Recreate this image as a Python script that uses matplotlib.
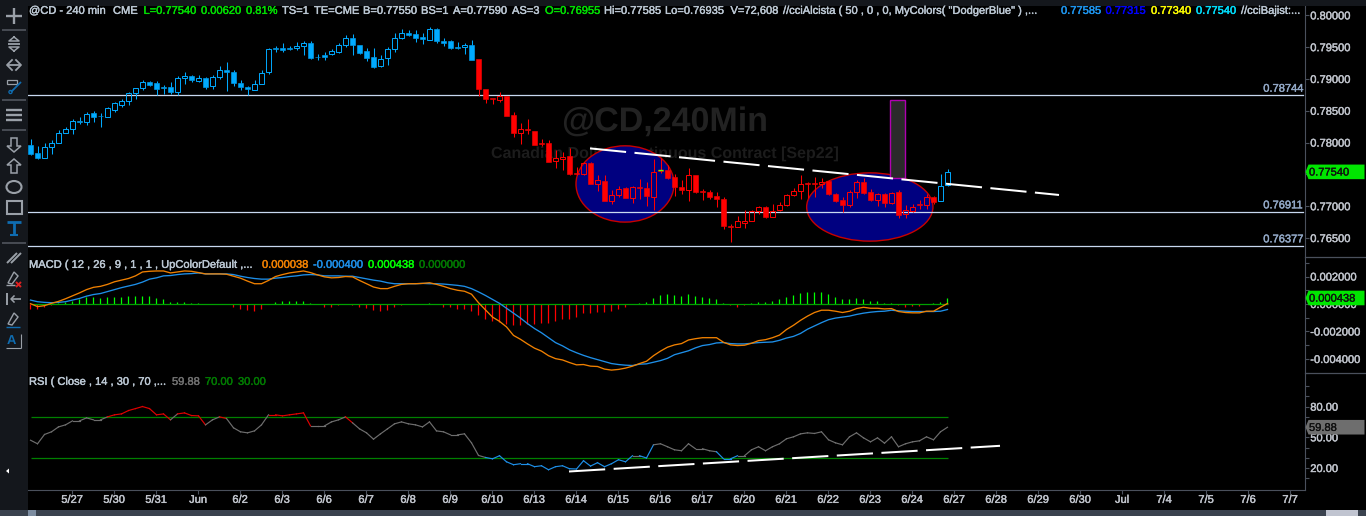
import numpy as np
import matplotlib
matplotlib.use('Agg')
import matplotlib.pyplot as plt
import matplotlib.patheffects as pe
from matplotlib.patches import Ellipse, Rectangle, Polygon, Circle
from matplotlib.ticker import MultipleLocator, FixedLocator, FormatStrFormatter

plt.rcParams['font.family'] = ['Liberation Sans', 'DejaVu Sans']
plt.rcParams['text.hinting'] = 'no_hinting'
plt.rcParams['text.hinting_factor'] = 1

# prices in 1e-5, one entry per 240 min bar
highs = [78051,77946,77988,78041,78199,78241,78367,78398,78483,78493,
78462,78556,78640,78693,78798,78861,78988,78972,78967,78909,
78956,79051,79109,79067,79056,79030,79061,79209,79272,79135,
78988,78893,78988,79135,79487,79514,79566,79514,79577,79592,
79598,79398,79424,79477,79566,79698,79713,79540,79487,79487,
79382,79498,79724,79792,79766,79766,79724,79819,79803,79645,
79619,79582,79566,79619,79319,78846,78698,78798,78735,78488,
78304,78367,78183,78051,78041,77883,77857,77909,77620,77688,
77699,77489,77489,77262,77315,77304,77320,77425,77383,77741,
77751,77646,77504,77410,77594,77489,77278,77262,77226,77147,
76715,76842,76936,76947,77005,77005,77041,77062,77189,77289,
77489,77383,77462,77436,77420,77215,77147,77262,77410,77436,
77278,77215,77210,77231,77262,77015,77031,77094,77199,77162,
77504,77585]
body_top = [77962,77830,77936,77999,78157,78220,78335,78335,78456,78462,
78425,78541,78619,78661,78772,78851,78951,78951,78935,78867,
78872,79019,79046,79051,79014,79019,79030,79140,79140,79109,
78935,78872,78919,79093,79471,79487,79487,79487,79514,79566,
79566,79351,79372,79445,79535,79645,79645,79535,79440,79345,
79314,79471,79640,79724,79724,79708,79661,79787,79792,79603,
79603,79503,79535,79535,79319,78846,78698,78735,78735,78430,
78209,78209,78183,77988,77988,77751,77778,77788,77520,77673,
77673,77420,77404,77178,77273,77283,77304,77310,77294,77541,
77567,77567,77457,77310,77483,77483,77236,77231,77157,77110,
76689,76773,76773,76926,76989,76989,76926,77026,77178,77247,
77357,77367,77362,77388,77399,77199,77094,77231,77373,77388,
77220,77199,77199,77215,77220,76942,76989,77031,77147,77147,
77325,77540]
body_bot = [77820,77762,77762,77936,77999,78157,78220,78325,78330,78404,
78414,78409,78514,78593,78661,78772,78851,78909,78846,78856,
78788,78788,79014,78988,78972,78867,78882,79024,79104,78930,
78867,78835,78819,78914,79104,79477,79461,79477,79487,79519,
79335,79340,79340,79393,79419,79530,79530,79403,79335,79182,
79198,79324,79466,79640,79692,79645,79624,79619,79593,79561,
79493,79493,79498,79303,78835,78693,78683,78672,78425,78151,
78151,78193,77962,77978,77699,77704,77746,77510,77510,77510,
77357,77357,77078,77083,77178,77136,77131,77294,77162,77147,
77557,77446,77304,77257,77262,77226,77226,77147,77115,76689,
76679,76673,76742,76773,76926,76831,76836,76942,77026,77178,
77241,77357,77352,77352,77189,77078,77015,77026,77226,77210,
77105,77105,77047,77052,76857,76873,76926,77020,77026,77068,
77083,77340]
lows = [77799,77741,77762,77820,77988,78157,78135,78293,78278,78330,
78251,78409,78488,78556,78588,78693,78819,78893,78746,78767,
78767,78751,78914,78946,78946,78840,78840,78998,78804,78882,
78819,78746,78819,78914,79072,79419,79419,79451,79461,79382,
79319,79303,79303,79382,79408,79503,79382,79387,79277,79177,
79187,79224,79419,79635,79671,79582,79556,79608,79571,79514,
79477,79472,79398,79303,78740,78619,78609,78646,78425,78083,
77978,78135,77962,77951,77694,77604,77567,77489,77489,77489,
77346,77241,77078,77041,77147,77125,77052,77120,77000,76936,
77515,77425,77157,77189,77083,77210,77105,77120,76989,76636,
76436,76673,76663,76768,76873,76821,76826,76926,77010,77168,
77120,77125,77147,77294,77178,77062,76915,76989,77125,77199,
77083,77000,76989,77041,76821,76821,76915,76963,76963,77041,
77083,77315]
hollow_bars = [2,3,4,5,6,8,11,12,13,14,15,16,21,22,24,26,27,32,33,34,38,39,43,44,45,50,51,52,53,57,62,
67,70,75,76,79,81,83,84,86,89,94,101,102,103,104,106,107,108,109,110,113,117,118,121,123,125,126,128,130,131]
red_bars = (64, 129)

# macd in millionths
macd_signal = [286,167,119,95,119,167,286,405,571,690,762,904,1047,1190,1309,1428,1595,1809,1904,2047,
2071,2142,2190,2213,2261,2190,2190,2190,2190,2142,2023,1928,1856,1809,1809,1880,1928,1999,2047,2118,
2142,2118,2047,2047,2047,2023,2023,1928,1833,1737,1666,1547,1476,1476,1476,1476,1499,1476,1476,1452,
1404,1357,1285,1119,881,619,333,48,-309,-666,-1023,-1428,-1785,-2094,-2451,-2808,-3046,-3332,-3546,-3737,
-3903,-4046,-4189,-4332,-4403,-4451,-4474,-4379,-4355,-4236,-4117,-3951,-3689,-3546,-3403,-3189,-3023,-2951,-2832,-2808,
-2880,-2904,-2904,-2856,-2808,-2785,-2761,-2642,-2475,-2356,-2142,-1833,-1595,-1357,-1142,-1023,-952,-881,-762,-666,
-595,-547,-524,-452,-500,-524,-547,-547,-547,-547,-524,-400]
macd_fast = [24,-190,-119,48,190,381,595,809,1047,1214,1285,1428,1618,1737,1856,2047,2332,2380,2404,2404,
2261,2332,2404,2380,2285,2190,2190,2190,2166,2023,1880,1666,1476,1476,1714,1999,2142,2261,2332,2404,
2285,2118,1975,1904,1928,1999,1975,1714,1476,1238,1119,1119,1285,1428,1476,1476,1499,1547,1428,1285,
1119,1000,928,714,95,-428,-952,-1261,-1666,-2285,-2570,-2904,-3213,-3427,-3760,-3975,-4070,-4260,-4427,-4403,
-4522,-4546,-4736,-4808,-4760,-4665,-4522,-4332,-4165,-3760,-3427,-3142,-2975,-2880,-2618,-2523,-2451,-2451,-2451,-2785,
-2975,-3023,-2999,-2856,-2666,-2594,-2451,-2261,-1856,-1547,-1190,-881,-619,-452,-452,-524,-619,-524,-333,-238,
-309,-309,-357,-333,-547,-619,-643,-643,-524,-524,-238,38]
macd_hist = [-357,-357,-238,-95,48,143,214,357,476,524,452,500,500,500,548,571,571,571,428,357,
143,143,143,71,48,0,0,-24,-24,-190,-357,-405,-476,-333,0,167,214,214,214,214,
71,0,-190,-190,-71,0,-71,-190,-310,-452,-524,-405,-238,-71,0,24,0,48,0,-190,
-238,-357,-357,-500,-833,-1119,-1238,-1310,-1429,-1548,-1548,-1429,-1476,-1381,-1381,-1262,-1119,-1071,-976,-667,
-667,-571,-595,-524,-333,-238,0,71,143,428,643,714,667,571,714,571,524,452,357,71,
-71,-190,-71,71,143,143,214,357,500,643,786,857,857,857,714,500,357,357,428,357,
214,214,71,71,-71,-190,-143,-119,24,71,143,438]
rsi = [47.2,43.7,52.8,55.4,60.2,62.2,66.1,66.1,69.0,67.1,67.1,70.0,72.0,72.9,76.2,78.1,80.1,78.1,72.0,72.9,
67.1,72.9,73.9,71.3,71.0,62.2,67.1,70.0,68.4,59.3,55.4,54.4,56.3,62.2,72.0,72.0,71.0,72.0,72.9,73.9,
61.2,61.2,61.2,65.1,67.1,70.0,64.2,58.3,54.4,48.2,53.4,58.3,63.2,65.1,63.2,62.2,60.2,65.1,56.3,55.4,
52.4,52.4,53.4,44.6,32.3,30.3,29.0,32.0,26.1,23.2,24.2,24.2,21.3,22.2,18.3,21.3,22.2,19.3,19.0,27.1,
21.9,25.2,21.3,24.2,28.1,26.1,32.0,32.0,29.8,42.7,43.7,40.8,37.8,36.9,43.7,38.8,38.8,36.9,35.9,29.0,
29.0,32.0,32.0,37.8,40.8,36.9,40.8,43.7,48.6,50.5,53.4,54.4,53.8,55.4,47.6,44.6,42.7,50.5,54.4,49.5,
45.6,49.5,44.3,50.5,40.8,43.7,45.6,46.6,50.5,47.6,55.4,59.88]

levels = [0.78744, 0.76911, 0.76377]
date_labels = ['5/27','5/30','5/31','Jun','6/2','6/3','6/6','6/7','6/8','6/9','6/10','6/13','6/14','6/15','6/16',
'6/17','6/20','6/21','6/22','6/23','6/24','6/27','6/28','6/29','6/30','Jul','7/4','7/5','7/6','7/7']

BLUE = '#00aaff'
RED = '#ff0000'
GRID = '#4a505c'
TXT = '#c0c4cc'
FS = 8.0
W, H = 1366, 516

fig = plt.figure(figsize=(W/100, H/100), dpi=100, facecolor='black')

def heavy(t, lw=0.3):
    # reference text is a bit fatter than plain Liberation
    t.set_path_effects([pe.withStroke(linewidth=lw, foreground=t.get_color())])

def panel(top, bottom):
    a = fig.add_axes([28/W, 1-bottom/H, (1305-28)/W, (bottom-top)/H], facecolor='black')
    a.set_xlim((28-30.5)/7, (1305-30.5)/7)
    for s in a.spines.values():
        s.set_visible(False)
    a.spines['right'].set_visible(True)
    a.spines['right'].set_color(GRID)
    a.yaxis.tick_right()
    a.tick_params(axis='y', which='both', colors=GRID, length=3, width=0.8, labelcolor=TXT, labelsize=FS, pad=0.8)
    a.tick_params(axis='x', bottom=False, labelbottom=False)
    return a

ax = panel(6, 257)
ax2 = panel(257, 373)
ax3 = panel(373, 490)

# price panel
ax.set_ylim(0.76202, 0.80147)
ax.yaxis.set_major_locator(MultipleLocator(0.005))
ax.yaxis.set_major_formatter(FormatStrFormatter('%.5f'))

ax.text(90.6, 0.78310, '@CD,240Min', color='#222222', fontsize=24.7, fontweight='bold', ha='center', va='center', zorder=1)
ax.text(90.6, 0.77822, 'Canadian Dollar Continuous Contract [Sep22]', color='#1c1c1c', fontsize=11.7, fontweight='bold', ha='center', va='center', zorder=1)

ax.add_patch(Ellipse((84.93, 0.77350), 14, 0.01199, fc='#000080', ec='#c80000', lw=1, zorder=2))
ax.add_patch(Ellipse((119.9, 0.76988), 18.04, 0.01073, fc='#000080', ec='#c80000', lw=1, zorder=2))
for v in levels:
    ax.axhline(v, xmax=0.9985, color='#c8d8f0', lw=0.9, zorder=3)
    heavy(ax.text(0.9985, v+0.0002, '%.5f' % v, color='#92a8c6', fontsize=FS, ha='right', va='bottom', transform=ax.get_yaxis_transform(), zorder=3))

xs = np.arange(len(highs))
hi = np.array(highs)/1e5
lo = np.array(lows)/1e5
top = np.array(body_top)/1e5
bot = np.array(body_bot)/1e5
for i in xs:
    col = RED if red_bars[0] <= i <= red_bars[1] else BLUE
    ax.vlines(i, top[i], hi[i], color=col, lw=0.75, zorder=4)
    ax.vlines(i, lo[i], bot[i], color=col, lw=0.75, zorder=4)
    if i in hollow_bars:
        ax.bar(i, top[i]-bot[i], bottom=bot[i], width=0.62, fill=False, edgecolor=col, lw=0.7, zorder=4)
    else:
        ax.bar(i, top[i]-bot[i], bottom=bot[i], width=0.66, color=col, edgecolor=col, lw=0.4, zorder=4)
ax.hlines(0.77562, 89.7, 90.3, color='#60ff00', lw=1, zorder=5)

ax.add_patch(Rectangle((122.8, 0.77436), 2.1, 0.01235, fc='#2a2a2a', ec='#b000b0', lw=1, zorder=5))
ax.plot([79.93, 146.93], [0.77909, 0.77177], color='white', lw=1.45, ls=(0, (18, 4.2)), zorder=6)

# macd panel
ax2.set_ylim(-0.00502, 0.00342)
ax2.yaxis.set_major_locator(MultipleLocator(0.002))
ax2.yaxis.set_minor_locator(MultipleLocator(0.001))
ax2.yaxis.set_major_formatter(FormatStrFormatter('%.6f'))
h = np.array(macd_hist)/1e6
ax2.vlines(xs-0.12, 0, h, colors=np.where(h >= 0, '#00ff00', RED), lw=0.9, zorder=2)
ax2.hlines(0, 0, xs[-1], color='#00a000', lw=0.9, zorder=2)
ax2.plot(xs, np.array(macd_signal)/1e6, color='#1e8fe8', lw=0.95, zorder=3)
ax2.plot(xs, np.array(macd_fast)/1e6, color='#f08000', lw=0.95, zorder=4)

# rsi panel
ax3.set_ylim(-1.5, 112.9)
ax3.yaxis.set_major_locator(FixedLocator([20, 50, 80]))
ax3.yaxis.set_minor_locator(FixedLocator([10, 30, 40, 60, 70, 90, 100]))
ax3.yaxis.set_major_formatter(FormatStrFormatter('%.2f'))
ax3.hlines([70, 30], 0, xs[-1], color='#008000', lw=0.9, zorder=2)
for i in xs[:-1]:
    a, b = rsi[i], rsi[i+1]
    col = '#6e6e6e'
    if a >= 70:
        col = '#e00000'
    elif a < 30 or b < 30:
        col = '#1e8fe8'
    ax3.plot([i, i+1], [a, b], color=col, lw=0.85, zorder=3)
ax3.plot([76.93, 138.5], [16.6, 41.7], color='white', lw=1.45, ls=(0, (18, 4.2)), zorder=6)

ax3.spines['bottom'].set_visible(True)
ax3.spines['bottom'].set_color(GRID)
ax3.set_xticks(5.93 + 6*np.arange(len(date_labels)))
ax3.set_xticklabels(date_labels)
ax3.tick_params(axis='x', bottom=True, labelbottom=True, colors=GRID, labelcolor=TXT, length=3, width=0.8, labelsize=FS, pad=0.5)
for a in (ax, ax2, ax3):
    for t in a.get_yticklabels() + a.get_xticklabels():
        heavy(t)

# overlay in pixels: toolbar, legends, price tags, scroll bar
ov = fig.add_axes([0, 0, 1, 1], zorder=10)
ov.set_xlim(0, W)
ov.set_ylim(H, 0)
ov.axis('off')
ov.patch.set_visible(False)
DARK = '#14171c'
ICON = '#9aa0a8'
ICONB = '#0f6cb0'
ov.add_patch(Rectangle((0, 0), W, 6, fc=DARK, ec='none'))
ov.add_patch(Rectangle((0, 0), 28, H, fc=DARK, ec='none'))
ov.add_patch(Rectangle((0, 510), W, 6, fc='#3a424e', ec='none'))
ov.add_patch(Rectangle((28, 510), 8, 6, fc='#7c8ca0', ec='none'))
ov.add_patch(Rectangle((1326, 510), 32, 6, fc='#c0c4d0', ec='none'))
ov.plot([1305, W], [257, 257], color=GRID, lw=0.9)
ov.plot([1305, W], [373, 373], color=GRID, lw=0.9)

def seg(xx, yy, c=ICON, lw=1.5):
    ov.plot(xx, yy, color=c, lw=lw, solid_capstyle='butt')

seg([6, 22], [15.5, 15.5], lw=1.7)
seg([14, 14], [7.5, 23.5], lw=1.7)
for y in (30, 100, 130, 243):
    seg([2, 26], [y, y], c='#4c5058', lw=1.3)
seg([8, 20], [44, 44], lw=1.3)
ov.plot([14, 9, 19, 14], [37, 41, 41, 37], color=ICON, lw=1.1)
ov.plot([14, 9, 19, 14], [51, 47, 47, 51], color=ICON, lw=1.1)
seg([8, 20], [65, 65], lw=1.3)
ov.plot([12, 7, 12], [60, 65, 70], color=ICON, lw=1.3)
ov.plot([16, 21, 16], [60, 65, 70], color=ICON, lw=1.3)
ov.add_patch(Rectangle((7, 80), 10, 3.5, fc='none', ec=ICON, lw=0.9))
seg([11, 21], [92, 82], c=ICONB, lw=1.3)
ov.add_patch(Circle((10.5, 92), 1.6, fc='none', ec=ICONB, lw=0.9))
for y in (110, 115, 120):
    seg([6, 22], [y, y], lw=1.7)
ov.add_patch(Polygon([(11, 138), (17, 138), (17, 146), (21, 146), (14, 152), (7, 146), (11, 146)], fc='none', ec=ICON, lw=1.1))
ov.add_patch(Polygon([(11, 173), (17, 173), (17, 165), (21, 165), (14, 159), (7, 165), (11, 165)], fc='none', ec=ICON, lw=1.1))
ov.add_patch(Ellipse((14, 187), 15, 12, fc='none', ec=ICON, lw=1.5))
ov.add_patch(Rectangle((6.5, 201), 15, 13, fc='none', ec=ICON, lw=1.5))
seg([7, 21], [222, 222], c=ICONB, lw=2)
seg([14, 14], [222, 235], c=ICONB, lw=2)
seg([10, 18], [235, 235], c=ICONB, lw=1.5)
seg([7, 17], [263, 253], lw=1.4)
seg([11, 21], [263, 253], lw=1.4)
ov.add_patch(Polygon([(8, 283), (14, 272), (18, 276), (12, 284)], fc='none', ec=ICON, lw=1))
seg([6, 15], [285, 285], lw=1)
seg([16, 21], [282, 287], c='#e02020', lw=1.4)
seg([16, 21], [287, 282], c='#e02020', lw=1.4)
seg([7, 7], [293, 305], lw=1.4)
seg([11, 21], [299, 299], lw=1.2)
ov.plot([14, 11, 14], [296, 299, 302], color=ICON, lw=1.1)
ov.add_patch(Polygon([(8, 324), (14, 313), (18, 317), (12, 325)], fc='none', ec=ICON, lw=1))
seg([6, 20], [327, 327], c=ICONB, lw=1)
ov.text(11, 341, 'A', color=ICONB, fontsize=9, fontweight='bold', ha='center', va='center')
seg([6, 21], [348, 348], lw=0.8)
seg([21, 21], [334, 348], lw=0.8)
ov.add_patch(Polygon([(6, 471), (9, 468.5), (9, 473.5)], fc='white', ec='none'))

def label(x, y, s, c=None):
    heavy(ov.text(x, y, s, color=c or '#bcc8d4', fontsize=FS, ha='left', va='center'))

GREEN = '#00e000'
for x, s, c in [(29, '@CD - 240 min', None), (113, 'CME', None), (143.5, 'L=0.77540', GREEN), (201, '0.00620', GREEN),
                (246, '0.81%', GREEN), (282, 'TS=1', None), (314, 'TE=CME', None), (363, 'B=0.77550', None),
                (421, 'BS=1', None), (453, 'A=0.77590', None), (512, 'AS=3', None), (545, 'O=0.76955', GREEN),
                (604, 'Hi=0.77585', None), (665, 'Lo=0.76935', None), (730.5, 'V=72,608', None),
                (783, '//cciAlcista ( 50 , 0 , 0, MyColors( "DodgerBlue" ) ,...', None), (1061, '0.77585', '#1e96f0'),
                (1105.5, '0.77315', '#0000ff'), (1151, '0.77340', '#ffff00'), (1196, '0.77540', '#00e0ff'),
                (1241, '//cciBajist:...', None)]:
    label(x, 11, s, c)
for x, s, c in [(29, 'MACD ( 12 , 26 , 9 , 1 , 1 , UpColorDefault ,...', None), (262, '0.000038', '#f08000'),
                (313, '-0.000400', '#1e8fe8'), (368, '0.000438', '#00ff00'), (419, '0.000000', '#007a00')]:
    label(x, 265, s, c)
for x, s, c in [(29, 'RSI ( Close , 14 , 30 , 70 ,...', None), (172, '59.88', '#707070'), (205, '70.00', '#007a00'), (238, '30.00', '#007a00')]:
    label(x, 382, s, c)

fig.canvas.draw()

def tag(a, val, s, col):
    y = H - a.transData.transform((0, val))[1]
    ov.add_patch(Polygon([(1305.5, y), (1308.5, y-7.3), (1364.5, y-7.3), (1364.5, y+7.3), (1308.5, y+7.3)], fc=col, ec='none', zorder=8))
    t = ov.text(1309, y+0.8, s, color='#101010', fontsize=FS, ha='left', va='center', zorder=9)
    heavy(t, 0.2)

tag(ax, 0.77540, '0.77540', '#00e600')
tag(ax2, 0.000438, '0.000438', '#00e600')
tag(ax3, 59.88, '59.88', '#6e6e6e')

fig.savefig('out.png', dpi=100, facecolor='black')
